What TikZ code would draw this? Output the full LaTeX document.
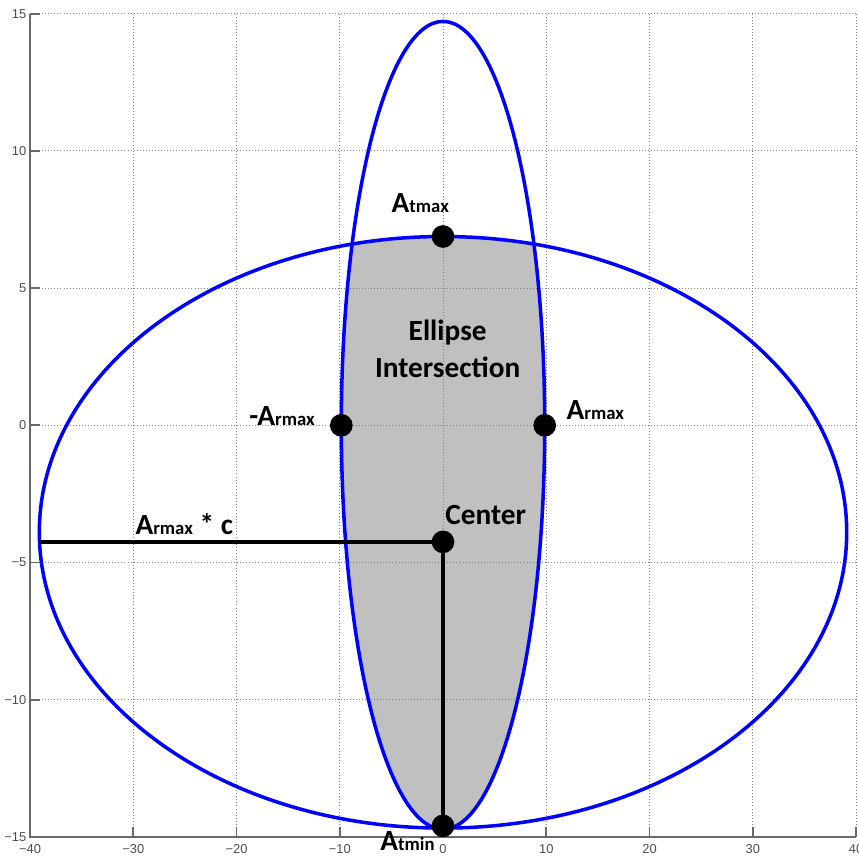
\documentclass[tikz,border=0pt]{standalone}
\usepackage{fontspec}
\setmainfont{Carlito}
\newfontfamily\tickfont{Liberation Sans}
\definecolor{plotblue}{RGB}{0,0,255}
\definecolor{plotgray}{RGB}{192,192,192}
\definecolor{gridgray}{RGB}{130,130,130}
\definecolor{axisgray}{RGB}{105,105,105}
\usetikzlibrary{positioning}
\newcommand{\Alabel}[1]{{\fontsize{25}{27}\selectfont A}{\fontsize{16}{18}\selectfont #1}}

\begin{document}
\begin{tikzpicture}[x=0.30975cm, y=0.8232cm,
  gridline/.style={gridgray, line width=0.8pt, dash pattern=on 0.8pt off 1.8pt},
  axisline/.style={axisgray, line width=1.5pt},
  ellline/.style={plotblue, line width=3pt},
  refline/.style={black, line width=4pt},
  dot/.style={circle, fill=black, inner sep=0pt, minimum size=0.68cm},
  lbl/.style={font=\bfseries\fontsize{25}{27}\selectfont, inner sep=0pt},
  ticklbl/.style={font=\tickfont\fontsize{11}{13}\selectfont, text=black!70, inner sep=0pt}]
  \useasboundingbox (-42.91,-15.69) rectangle (40.29,15.50);

  %--- Intersection area ---
  \begin{scope}
    \clip (0,-3.9) ellipse (39.1 and 10.78);
    \fill[plotgray] (0,0) ellipse (9.85 and 14.72);
  \end{scope}

  %--- Grid ---
  \foreach \x in {-30,-20,...,40} \draw[gridline] (\x,-15) -- (\x,15);
  \foreach \y in {-10,-5,...,15} \draw[gridline] (-40,\y) -- (40,\y);

  %--- Axes and ticks ---
  \draw[axisline] (-40,15) -- (-40,-15) -- (40,-15);
  \foreach \x/\t in {-40/−40,-30/−30,-20/−20,-10/−10,0/0,10/10,20/20,30/30,40/40} {
    \draw[axisline] (\x,-15) -- ++(0,0.36);
    \node[ticklbl, anchor=north, yshift=-6pt] at (\x,-15) {\t};
  }
  \foreach \y/\t in {-15/−15,-10/−10,-5/−5,0/0,5/5,10/10,15/15} {
    \draw[axisline] (-40,\y) -- ++(0.97,0);
    \node[ticklbl, anchor=east, xshift=-3pt] at (-40,\y) {\t};
  }

  %--- Ellipses ---
  \draw[ellline] (0,-3.9) ellipse (39.1 and 10.78);
  \draw[ellline] (0,0) ellipse (9.85 and 14.72);

  % Points
  \node[dot] (atmax) at (0,6.88) {};
  \node[dot] (armaxL) at (-9.85,0) {};
  \node[dot] (armaxR) at (9.85,0) {};
  \node[dot] (center) at (0,-4.25) {};
  \node[dot] (atmin) at (0,-14.6) {};
  \coordinate (leftend) at (-39.1,-4.25);

  \draw[refline] (leftend) -- (center.center);
  \draw[refline] (center.center) -- (atmin.center);

  % Labels
  \node[lbl, anchor=base] (atmaxlbl) at (-2.2,7.75) {\Alabel{tmax}};
  \node[lbl, anchor=base] (atminlbl) at (-3.44,-15.5) {\Alabel{tmin}};
  \node[lbl, anchor=base east] (armaxLlbl) at (-12.4,0) {-\Alabel{rmax}};
  \node[lbl, anchor=base west] (armaxRlbl) at (11.95,0.22) {\Alabel{rmax}};
  \node[lbl, anchor=base west] (centerlbl) at (0.2,-3.63) {Center};
  \node[lbl, anchor=base west] (radiuslbl) at (-29.8,-3.99) {\Alabel{rmax} * c};
  \node[lbl, align=center, font=\bfseries\fontsize{25}{31.6}\selectfont] (isectlbl) at (0.45,2.8) {Ellipse\\Intersection};
\end{tikzpicture}
\end{document}
